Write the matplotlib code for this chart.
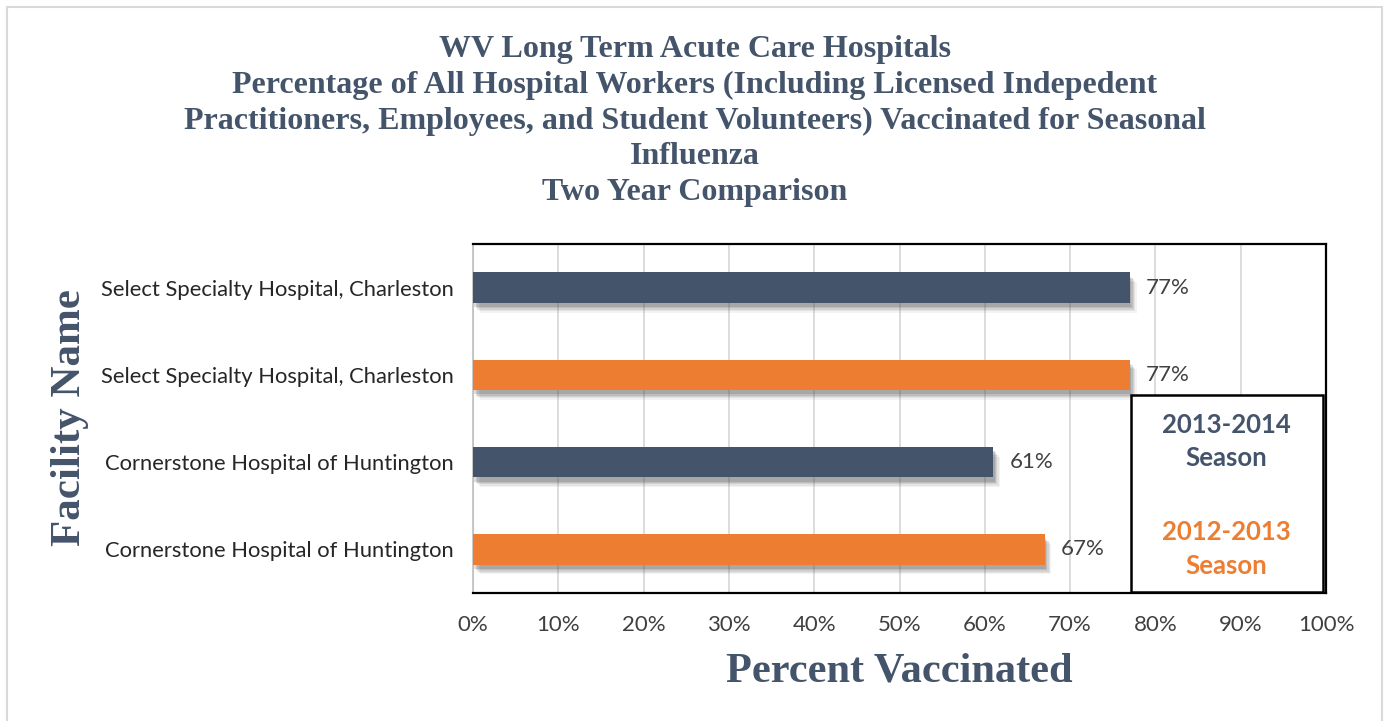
import matplotlib
matplotlib.use("Agg")
import matplotlib.pyplot as plt
import matplotlib.patheffects as pe
from matplotlib.patches import Rectangle

categories = ["Cornerstone Hospital of Huntington",
              "Cornerstone Hospital of Huntington",
              "Select Specialty Hospital, Charleston",
              "Select Specialty Hospital, Charleston"]
values = [67, 61, 77, 77]
seasons = ["2012-2013", "2013-2014", "2012-2013", "2013-2014"]
xticks = [0, 10, 20, 30, 40, 50, 60, 70, 80, 90, 100]

DARK = "#44546A"
ORANGE = "#ED7D31"
season_colors = {"2013-2014": DARK, "2012-2013": ORANGE}

W, H = 1390, 721
fig = plt.figure(figsize=(W / 100, H / 100), dpi=100)
fig.patch.set_facecolor("white")

# outer chart border
fig.add_artist(Rectangle((7 / W, -0.01), (1382 - 7) / W, (H - 7) / H + 0.01,
                         transform=fig.transFigure, fill=False,
                         edgecolor="#D9D9D9", linewidth=1.5))

ax = fig.add_axes([473 / W, 1 - 593 / H, (1326 - 473) / W, (593 - 244) / H])

ypos = list(range(len(categories)))
colors = [season_colors[s] for s in seasons]
bars = ax.barh(ypos, values, height=0.35, color=colors, zorder=3)
shadow = [pe.SimplePatchShadow(offset=(o, -o - 2), shadow_rgbFace="#606060", alpha=a)
          for o, a in [(1, 0.22), (2, 0.18), (3, 0.14), (4, 0.10), (5, 0.07)]]
for b in bars:
    b.set_path_effects(shadow + [pe.Normal()])

for y, v in zip(ypos, values):
    ax.text(v + 1.9, y, f"{v}%", va="center", ha="left", fontsize=16,
            family="Lato", color="#404040", zorder=4)

ax.set_xlim(0, 100)
ax.set_ylim(-0.5, len(categories) - 0.5)
ax.set_xticks(xticks)
ax.set_xticklabels([f"{t}%" for t in xticks], fontsize=16, family="Lato", color="#404040")
ax.set_yticks(ypos)
ax.set_yticklabels(categories, fontsize=15.8, family="Lato", color="#262626")
ax.tick_params(axis="both", length=0)
ax.tick_params(axis="x", pad=16)
ax.tick_params(axis="y", pad=14)
ax.grid(axis="x", color="#D9D9D9", linewidth=1.3, zorder=0)
ax.set_axisbelow(True)
for s in ax.spines.values():
    s.set_color("black")
    s.set_linewidth(1.6)
ax.spines["left"].set_color("#BFBFBF")
ax.spines["left"].set_linewidth(1.2)

ax.set_xlabel("Percent Vaccinated", fontsize=30.5, family="Liberation Serif",
              fontweight="bold", color=DARK)
ax.xaxis.set_label_coords((899 - 473) / (1326 - 473), -(672 - 593) / (593 - 244))
ax.xaxis.label.set_va("center")
ax.set_ylabel("Facility Name", fontsize=31, family="Liberation Serif",
              fontweight="bold", color=DARK)
ax.yaxis.set_label_coords(-(473 - 70) / (1326 - 473), (593 - 418) / (593 - 244))
ax.yaxis.label.set_va("center")

# title
title_lines = ["WV Long Term Acute Care Hospitals",
               "Percentage of All Hospital Workers (Including Licensed Indepedent",
               "Practitioners, Employees, and Student Volunteers) Vaccinated for Seasonal",
               "Influenza",
               "Two Year Comparison"]
fig.text(695 / W, 1 - 121 / H, "\n".join(title_lines), ha="center", va="center",
         fontsize=23, family="Liberation Serif", fontweight="bold", color=DARK,
         linespacing=1.30)

# legend box
fig.add_artist(Rectangle((1131 / W, 1 - 592 / H), (1323 - 1131) / W, (592 - 395) / H,
                         transform=fig.transFigure, facecolor="white",
                         edgecolor="black", linewidth=1.8, zorder=5))
fig.text(1226 / W, 1 - 442 / H, "2013-2014\nSeason", ha="center", va="center",
         fontsize=18.5, family="Lato", fontweight="bold", color=DARK,
         linespacing=1.45, zorder=6)
fig.text(1226 / W, 1 - 549 / H, "2012-2013\nSeason", ha="center", va="center",
         fontsize=18.5, family="Lato", fontweight="bold", color=ORANGE,
         linespacing=1.45, zorder=6)

fig.savefig("out.png", dpi=100)
